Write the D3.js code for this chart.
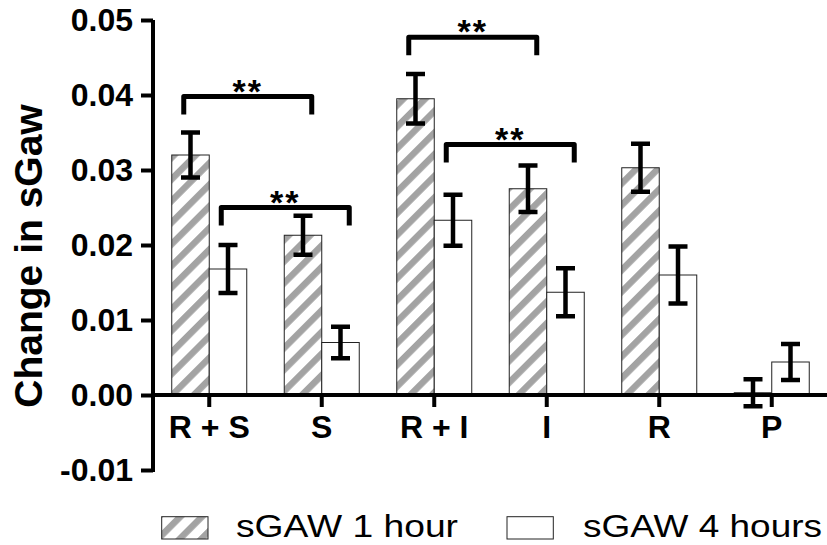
<!DOCTYPE html>
<html>
<head>
<meta charset="utf-8">
<script src="https://cdn.jsdelivr.net/npm/d3@7"></script>
<style>
  body { margin: 0; background: #fff; }
  svg { display: block; font-family: Arial, "Liberation Sans", Helvetica, sans-serif; }
</style>
</head>
<body>
<div id="chart"></div>
<script>
// Data
const groups = ["R + S", "S", "R + I", "I", "R", "P"];
const oneHour = [0.0320, 0.0213, 0.0395, 0.0275, 0.0303, 0.0003];
const oneHourErr = [0.0030, 0.0026, 0.0033, 0.0031, 0.0032, 0.0018];
const fourHours = [0.0168, 0.0070, 0.0233, 0.0137, 0.0160, 0.0044];
const fourHoursErr = [0.0032, 0.0021, 0.0034, 0.0032, 0.0038, 0.0024];
const seriesNames = ["sGAW 1 hour", "sGAW 4 hours"];
const yTicks = [-0.01, 0, 0.01, 0.02, 0.03, 0.04, 0.05];

// Significance brackets: [group, series] at each end, bracket height, label
const bracketFrom = [["R + S", 0], ["R + S", 1], ["R + I", 0], ["R + I", 1]];
const bracketTo = [["S", 0], ["S", 1], ["I", 0], ["I", 1]];
const bracketY = [0.0398, 0.0250, 0.0477, 0.0334];
const bracketLabel = ["**", "**", "**", "**"];

const W = 827, H = 545;
const svg = d3.select("#chart").append("svg")
    .attr("width", W)
    .attr("height", H);

// hatch pattern for the 1 hour bars
svg.append("defs").append("pattern")
    .attr("id", "hatch")
    .attr("patternUnits", "userSpaceOnUse")
    .attr("width", 15.3)
    .attr("height", 15.3)
    .attr("patternTransform", "rotate(45)")
    .call(p => {
        p.append("rect").attr("width", 15.3).attr("height", 15.3).attr("fill", "#fff");
        p.append("rect").attr("width", 6.5).attr("height", 15.3).attr("fill", "#a3a3a3");
    });

// Scales
const x = d3.scaleBand()
    .domain(groups)
    .range([153, 828])
    .paddingInner(1 / 3)
    .paddingOuter(1 / 6);

const sub = d3.scaleBand()
    .domain([0, 1])
    .range([0, x.bandwidth()]);

const y = d3.scaleLinear()
    .domain([-0.01, 0.05])
    .range([470, 20]);

const fills = ["url(#hatch)", "#fff"];
const values = [oneHour, fourHours];
const errors = [oneHourErr, fourHoursErr];

// Bars
values.forEach((vals, s) => {
    svg.append("g").selectAll("rect")
        .data(groups)
        .enter()
        .append("rect")
        .attr("x", d => x(d) + sub(s))
        .attr("width", sub.bandwidth())
        .attr("y", (d, i) => y(Math.max(0, vals[i])))
        .attr("height", (d, i) => Math.abs(y(vals[i]) - y(0)))
        .attr("fill", fills[s])
        .attr("stroke", "#222")
        .attr("stroke-width", 1);
});

// Error bars
values.forEach((vals, s) => {
    const g = svg.append("g")
        .attr("stroke", "#000")
        .attr("stroke-width", 4.5);
    groups.forEach((d, i) => {
        const cx = x(d) + sub(s) + sub.bandwidth() / 2;
        const hi = y(vals[i] + errors[s][i]);
        const lo = y(vals[i] - errors[s][i]);
        g.append("line").attr("x1", cx).attr("x2", cx).attr("y1", hi).attr("y2", lo);
        g.append("line").attr("x1", cx - 9.5).attr("x2", cx + 9.5).attr("y1", hi).attr("y2", hi);
        g.append("line").attr("x1", cx - 9.5).attr("x2", cx + 9.5).attr("y1", lo).attr("y2", lo);
    });
});

// Y axis
const yAxis = svg.append("g")
    .attr("transform", "translate(153,0)")
    .call(d3.axisLeft(y)
        .tickValues(yTicks)
        .tickFormat(d => d.toFixed(2))
        .tickSize(12)
        .tickSizeOuter(0)
        .tickPadding(8));
yAxis.select(".domain").attr("stroke-width", 4).attr("d", `M0,${y(0.05)}V${y(-0.01) + 2}`);
yAxis.selectAll(".tick line").attr("stroke-width", 4);
yAxis.selectAll("text")
    .attr("font-size", 32)
    .attr("font-weight", "bold")
    .attr("font-family", "Arial, 'Liberation Sans', sans-serif")
    .attr("fill", "#000");

// X axis at zero
const xAxis = svg.append("g")
    .attr("transform", `translate(0,${y(0)})`)
    .call(d3.axisBottom(x)
        .tickSize(12)
        .tickSizeOuter(0)
        .tickPadding(8));
xAxis.select(".domain").attr("stroke-width", 4).attr("d", "M151,0H828");
xAxis.selectAll(".tick line").attr("stroke-width", 4);
xAxis.selectAll("text")
    .attr("font-size", 32)
    .attr("font-weight", "bold")
    .attr("font-family", "Arial, 'Liberation Sans', sans-serif")
    .attr("fill", "#000");

// Y axis label
svg.append("text")
    .attr("transform", "rotate(-90)")
    .attr("x", -256)
    .attr("y", 42)
    .attr("text-anchor", "middle")
    .attr("font-size", 39)
    .attr("font-weight", "bold")
    .text("Change in sGaw");

// Significance brackets
const legDrop = 0.0024;
bracketFrom.forEach((from, i) => {
    const to = bracketTo[i];
    const x1 = x(from[0]) + sub(from[1]) + 12;
    const x2 = x(to[0]) + sub(to[1]) + sub.bandwidth() - 10;
    const top = y(bracketY[i]);
    const foot = y(bracketY[i] - legDrop);
    svg.append("path")
        .attr("d", `M${x1},${foot}V${top}H${x2}V${foot}`)
        .attr("fill", "none")
        .attr("stroke", "#000")
        .attr("stroke-width", 5)
        .attr("stroke-linejoin", "round");
    svg.append("text")
        .attr("x", (x1 + x2) / 2)
        .attr("y", top + 6)
        .attr("text-anchor", "middle")
        .attr("font-size", 34)
        .attr("font-weight", "bold")
        .attr("letter-spacing", 2)
        .text(bracketLabel[i]);
});

// Legend
const legendX = [161.7, 507];
const legendTextX = [236, 583];
const legendLen = [222, 239];
seriesNames.forEach((name, s) => {
    svg.append("rect")
        .attr("x", legendX[s])
        .attr("y", 516.7)
        .attr("width", 46.3)
        .attr("height", 22.3)
        .attr("fill", fills[s])
        .attr("stroke", "#222")
        .attr("stroke-width", 1);
    svg.append("text")
        .attr("x", legendTextX[s])
        .attr("y", 537)
        .attr("font-size", 32)
        .attr("textLength", legendLen[s])
        .attr("lengthAdjust", "spacingAndGlyphs")
        .text(name);
});
</script>
</body>
</html>
